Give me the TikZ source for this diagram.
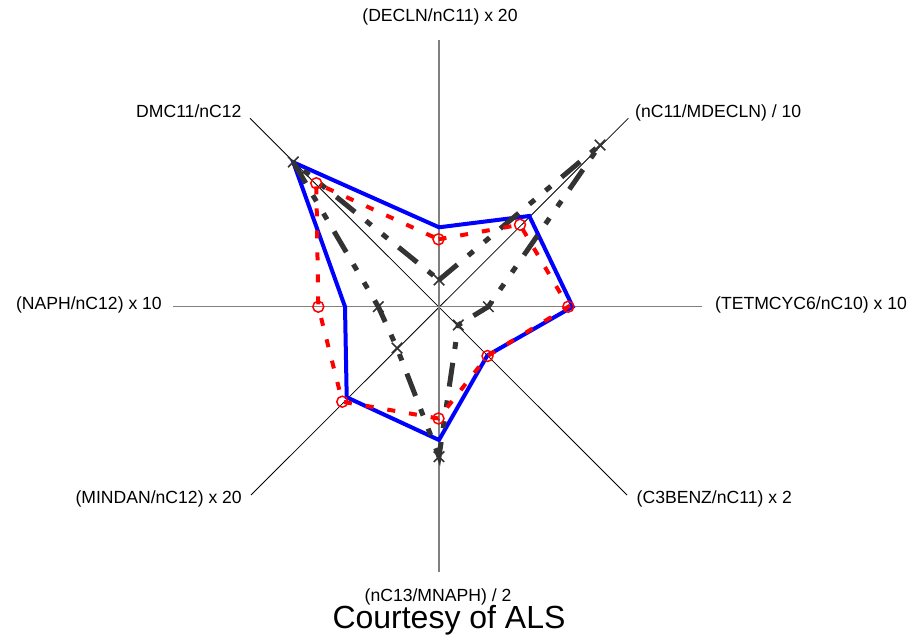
\documentclass[tikz,border=0pt]{standalone}
\usepackage{fontspec}
\setmainfont{Liberation Sans}
\usetikzlibrary{shapes.misc}
\begin{document}
\begin{tikzpicture}[x=1pt,y=-1pt,
  lbl/.style={inner sep=0pt,font=\fontsize{17.6}{20}\selectfont},
  biglbl/.style={inner sep=0pt,font=\fontsize{32}{36}\selectfont},
  axishv/.style={draw=black!50,line width=1.4pt},
  axisdiag/.style={draw=black,line width=0.8pt},
  blueser/.style={draw=blue,line width=4pt},
  redser/.style={draw=red,line width=4pt,dash pattern=on 8pt off 14pt},
  darkser/.style={draw=black!80,line width=5pt,dash pattern=on 24pt off 14pt on 7pt off 14pt on 7pt off 14pt},
  redmark/.style={circle,draw=red,line width=1.5pt,minimum size=11pt,inner sep=0pt},
  darkmark/.style={cross out,draw=black!80,line width=1.5pt,minimum size=9pt,inner sep=0pt}]
\useasboundingbox (0,0) rectangle (924,636);
% centre and axis ends
\coordinate (O) at (439,306.7);
\coordinate (aN) at (439,40);
\coordinate (aS) at (439,572);
\coordinate (aW) at (173,306.7);
\coordinate (aE) at (702,306.7);
\coordinate (aNE) at (628.3,118.3);
\coordinate (aNW) at (250,118.3);
\coordinate (aSW) at (251,495);
\coordinate (aSE) at (627,495);
% axes
\draw[axisdiag] (aNW) -- (aSE);
\draw[axisdiag] (aNE) -- (aSW);
\draw[axishv] (aN) -- (aS);
\draw[axishv] (aW) -- (aE);
% labels
\node[lbl,anchor=base] (tN) at (440,22) {(DECLN/nC11) x 20};
\node[lbl,anchor=base west] (tNE) at (635,118) {(nC11/MDECLN) / 10};
\node[lbl,anchor=base west] (tE) at (715,310) {(TETMCYC6/nC10) x 10};
\node[lbl,anchor=base west] (tSE) at (636.5,503) {(C3BENZ/nC11) x 2};
\node[lbl,anchor=base] (tS) at (438,601) {(nC13/MNAPH) / 2};
\node[lbl,anchor=base east] (tSW) at (242,503) {(MINDAN/nC12) x 20};
\node[lbl,anchor=base east] (tW) at (162,310) {(NAPH/nC12) x 10};
\node[lbl,anchor=base east] (tNW) at (241.7,118) {DMC11/nC12};
\node[biglbl,anchor=base] (court) at (449,628) {Courtesy of ALS};
% blue series
\coordinate (b1) at (439,227.3);
\coordinate (b2) at (529.3,216);
\coordinate (b3) at (572.7,306.7);
\coordinate (b4) at (487.3,355.5);
\coordinate (b5) at (439,440);
\coordinate (b6) at (346.7,397.3);
\coordinate (b7) at (345,306.7);
\coordinate (b8) at (293.3,162.3);
\draw[blueser] (b1) -- (b2) -- (b3) -- (b4) -- (b5) -- (b6) -- (b7) -- (b8) -- cycle;
% dark series
\coordinate (d1) at (439,280);
\coordinate (d2) at (600,145);
\coordinate (d3) at (488.3,306.7);
\coordinate (d4) at (458.3,325);
\coordinate (d5) at (439,456.7);
\coordinate (d6) at (397,348);
\coordinate (d7) at (378.3,306.7);
\coordinate (d8) at (293.3,162);
\draw[darkser] (d1) -- (d2) -- (d3) -- (d4) -- (d5) -- (d6) -- (d7) -- (d8) -- cycle;
% red series
\coordinate (r1) at (438.5,239.3);
\coordinate (r2) at (520,224.7);
\coordinate (r3) at (568.3,306.7);
\coordinate (r4) at (487.5,356);
\coordinate (r5) at (438.5,418.5);
\coordinate (r6) at (342.3,401.7);
\coordinate (r7) at (318.3,306.7);
\coordinate (r8) at (316.3,183.3);
\draw[redser] (r1) -- (r2) -- (r3) -- (r4) -- (r5) -- (r6) -- (r7) -- (r8) -- cycle;
% markers
\foreach \i in {1,...,8} {
  \node[darkmark] (dm\i) at (d\i) {};
  \node[redmark] (rm\i) at (r\i) {};
}
\end{tikzpicture}
\end{document}
